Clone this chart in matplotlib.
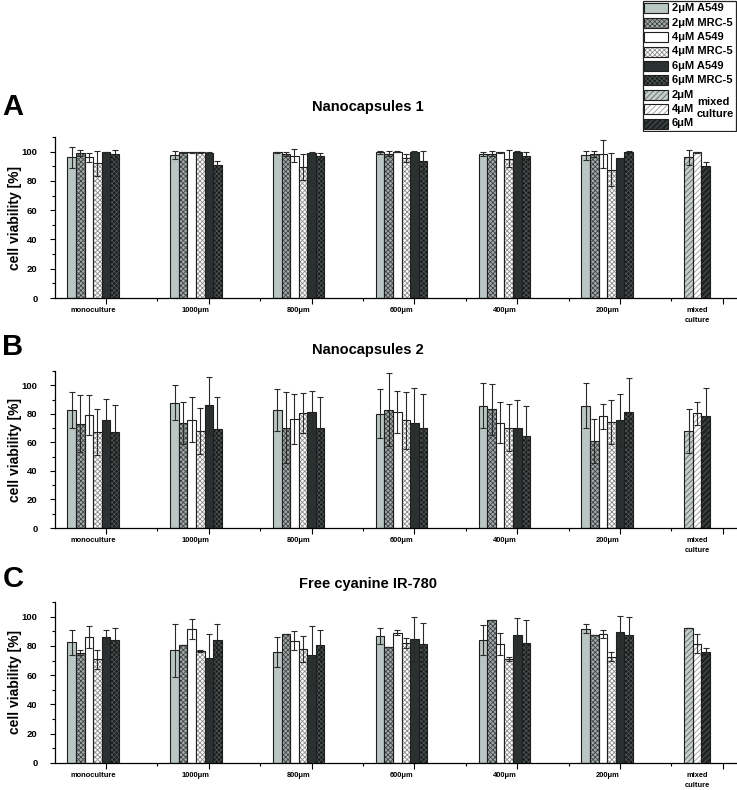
import numpy as np
import matplotlib
matplotlib.use('Agg')
import matplotlib.pyplot as plt
from matplotlib.patches import Rectangle

plt.rcParams['font.family'] = ['Liberation Sans', 'DejaVu Sans']
plt.rcParams['font.weight'] = 'bold'
plt.rcParams['hatch.linewidth'] = 0.6

groups = ['monoculture', '1000μm', '800μm', '600μm', '400μm', '200μm']
mixed_label = 'mixed\nculture'
series = ['2μM A549', '2μM MRC-5', '4μM A549', '4μM MRC-5', '6μM A549', '6μM MRC-5']
mixed_series = ['2μM', '4μM', '6μM']
titles = ['Nanocapsules 1', 'Nanocapsules 2', 'Free cyanine IR-780']
letters = ['A', 'B', 'C']

# rows = series, columns = groups
nc1 = [[96.0, 97.7, 99.5, 99.5, 98.4, 97.5],
       [99.0, 99.5, 98.4, 98.6, 98.6, 98.4],
       [96.0, 99.5, 97.3, 99.8, 99.5, 98.6],
       [92.0, 99.5, 89.5, 95.7, 95.2, 87.7],
       [99.5, 99.3, 99.3, 100.0, 99.8, 95.4],
       [98.4, 91.0, 96.8, 93.6, 96.8, 99.8]]
nc1_err = [[7.0, 3.0, 0.5, 1.0, 1.5, 3.0],
           [2.0, 0.5, 1.6, 1.5, 1.5, 2.0],
           [3.0, 0.3, 4.5, 0.3, 0.3, 9.5],
           [8.5, 0.3, 9.0, 3.0, 6.0, 11.5],
           [0.5, 0.5, 0.5, 0.5, 0.5, 0.3],
           [3.0, 2.3, 2.5, 6.5, 3.0, 0.5]]
nc1_mix = [96.1, 99.5, 90.4]
nc1_mix_err = [5.0, 0.5, 2.3]

nc2 = [[82.5, 87.9, 83.0, 80.2, 85.8, 85.8],
       [73.2, 73.7, 70.4, 83.0, 83.2, 61.0],
       [79.5, 76.0, 76.7, 81.4, 73.9, 78.3],
       [67.4, 67.8, 80.7, 75.5, 70.4, 74.4],
       [75.5, 86.0, 81.4, 73.7, 70.0, 75.5],
       [67.4, 69.5, 70.0, 70.0, 64.6, 81.6]]
nc2_err = [[12.6, 12.3, 14.7, 17.0, 16.0, 16.0],
           [20.0, 14.7, 25.0, 25.6, 17.7, 15.4],
           [14.0, 16.0, 17.5, 14.7, 14.2, 8.9],
           [16.0, 16.3, 14.0, 20.0, 16.8, 15.6],
           [15.0, 20.0, 14.7, 24.7, 19.5, 18.4],
           [18.6, 22.0, 22.0, 24.0, 21.0, 23.8]]
nc2_mix = [68.0, 80.4, 78.8]
nc2_mix_err = [15.4, 8.0, 19.6]

ir780 = [[82.4, 77.0, 75.6, 86.8, 84.0, 91.8],
         [75.3, 80.4, 88.4, 79.0, 97.5, 87.4],
         [86.0, 91.3, 83.6, 89.0, 81.3, 87.9],
         [70.8, 76.5, 78.0, 81.7, 71.0, 72.6],
         [86.0, 71.7, 73.5, 84.5, 87.2, 89.5],
         [84.2, 84.0, 80.6, 81.3, 82.2, 87.2]]
ir780_err = [[8.7, 18.2, 10.3, 5.2, 10.0, 3.2],
             [1.6, 0.0, 0.0, 0.0, 0.0, 0.0],
             [7.5, 6.8, 6.4, 1.8, 7.3, 2.7],
             [6.4, 0.5, 8.7, 3.4, 1.6, 3.0],
             [5.0, 16.2, 20.0, 15.5, 11.9, 11.0],
             [7.8, 11.2, 10.3, 14.6, 15.7, 12.3]]
ir780_mix = [92.5, 81.5, 76.0]
ir780_mix_err = [0.0, 6.6, 2.3]

# (face, hatch, hatch colour)
styles = [('#b9c6c3', None, None),
          ('#a4aaaa', 'xxxxxxx', '#3f4444'),
          ('white', None, None),
          ('white', 'xxxxxxx', '#8c8c8c'),
          ('#2b3130', None, None),
          ('#1a1d1d', 'xxxxxxx', '#4e5454')]
mix_styles = [('#c5cccc', '//////', '#5f6666'),
              ('white', '//////', '#9a9a9a'),
              ('#202424', '//////', '#555a5a')]

G = 12  # slots per group


def draw_bars(ax, xs, hs, st):
    face, hatch, hc = st
    if hatch:
        ax.bar(xs, hs, width=1.0, color=face, hatch=hatch, edgecolor=hc, linewidth=0, zorder=2)
        ax.bar(xs, hs, width=1.0, fill=False, edgecolor='#1e1e1e', linewidth=0.8, zorder=3)
    else:
        ax.bar(xs, hs, width=1.0, color=face, edgecolor='#1e1e1e', linewidth=0.8, zorder=2)


def panel(ax, vals, errs, mvals, merrs):
    for i in range(6):
        xs = np.arange(len(groups)) * G + i + 0.5
        draw_bars(ax, xs, vals[i], styles[i])
        ax.errorbar(xs, vals[i], yerr=errs[i], fmt='none', ecolor='#2a2a2a',
                    elinewidth=0.8, capsize=2.5, capthick=0.8, zorder=4)
    mx = len(groups) * G + np.arange(3) + 0.5
    for j in range(3):
        draw_bars(ax, [mx[j]], [mvals[j]], mix_styles[j])
    ax.errorbar(mx, mvals, yerr=merrs, fmt='none', ecolor='#2a2a2a',
                elinewidth=0.8, capsize=2.5, capthick=0.8, zorder=4)

    ax.set_xlim(-1.45, 78.15)
    ax.set_ylim(0, 110)
    ax.set_yticks(np.arange(0, 101, 20))
    ax.set_yticks(np.arange(10, 111, 20), minor=True)
    major = np.arange(7) * G + 4.5
    ax.set_xticks(major)
    ax.set_xticks(major[:-1] + G / 2, minor=True)
    ax.set_xticklabels([])
    ax.tick_params(axis='y', labelsize=6.8, length=3.5, width=0.8, pad=9)
    ax.tick_params(axis='y', which='minor', length=2, width=0.8)
    ax.tick_params(axis='x', length=4, width=0.8)
    ax.tick_params(axis='x', which='minor', length=2.5, width=0.8)
    for lab in ax.get_yticklabels():
        lab.set_fontweight('bold')
    for s in ['top', 'right']:
        ax.spines[s].set_visible(False)
    for s in ['left', 'bottom']:
        ax.spines[s].set_linewidth(0.9)
    ax.set_ylabel('cell viability [%]', fontsize=10, fontweight='bold')
    ax.yaxis.set_label_coords(-33 / 682, 0.5)

    pos = list(np.arange(len(groups)) * G + 3) + [len(groups) * G + 1.5]
    for p, t in zip(pos, groups + [mixed_label]):
        ax.annotate(t, xy=(p, 0), xycoords=('data', 'axes fraction'),
                    xytext=(0, -6.5), textcoords='offset points',
                    ha='center', va='top', fontsize=5.4, fontweight='bold',
                    linespacing=1.5)


W, H = 737, 790
fig = plt.figure(figsize=(W / 100, H / 100), dpi=100)

boxes = [(298, 137), (528, 371), (763, 602)]
data = [(nc1, nc1_err, nc1_mix, nc1_mix_err),
        (nc2, nc2_err, nc2_mix, nc2_mix_err),
        (ir780, ir780_err, ir780_mix, ir780_mix_err)]
title_y = [107, 350, 584]
letter_y = [107, 347, 579]

for k in range(3):
    bot, top = boxes[k]
    ax = fig.add_axes([55 / W, 1 - bot / H, (W - 55) / W, (bot - top) / H])
    panel(ax, *data[k])
    fig.text(368 / W, 1 - title_y[k] / H, titles[k], ha='center', va='center',
             fontsize=10.5, fontweight='bold')
    fig.text(13 / W, 1 - letter_y[k] / H, letters[k], ha='center', va='center',
             fontsize=21, fontweight='bold')

# legend box (pixel coordinates)
lax = fig.add_axes([642 / W, 1 - 132 / H, 95 / W, 132 / H])
lax.set_xlim(0, 95)
lax.set_ylim(132, 0)
lax.axis('off')
lax.add_patch(Rectangle((0.5, 0.5), 93, 130, fill=False, edgecolor='#222', linewidth=0.9))
labels = series + mixed_series
all_styles = styles + mix_styles
for i, (lab, st) in enumerate(zip(labels, all_styles)):
    yc = 8.3 + 14.4 * i
    face, hatch, hc = st
    if hatch:
        lax.add_patch(Rectangle((2, yc - 5), 24, 10, facecolor=face, hatch=hatch,
                                edgecolor=hc, linewidth=0))
        lax.add_patch(Rectangle((2, yc - 5), 24, 10, fill=False, edgecolor='#1e1e1e',
                                linewidth=0.8))
    else:
        lax.add_patch(Rectangle((2, yc - 5), 24, 10, facecolor=face, edgecolor='#1e1e1e',
                                linewidth=0.8))
    lax.text(30, yc, lab, ha='left', va='center', fontsize=8, fontweight='bold')
lax.text(55, 108, 'mixed\nculture', ha='left', va='center', fontsize=8,
         fontweight='bold', linespacing=1.2)

fig.savefig('out.png', dpi=100)
